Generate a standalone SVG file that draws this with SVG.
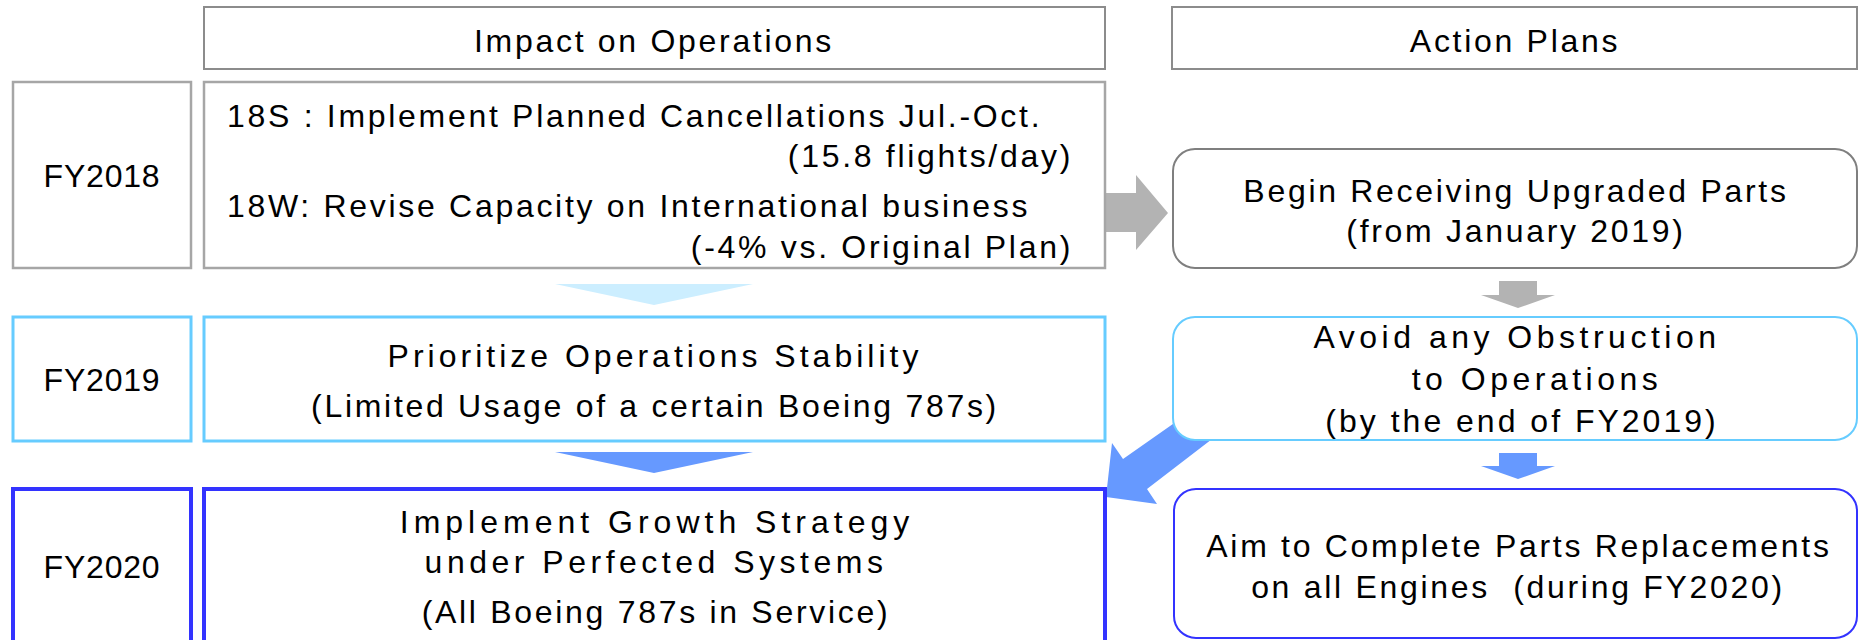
<svg xmlns="http://www.w3.org/2000/svg" width="1859" height="640" viewBox="0 0 1859 640">
  <style>
    text { font-family: "Liberation Sans", Arial, sans-serif; font-size: 32px; fill: #000; letter-spacing: 2.7px; }
    .mid { text-anchor: middle; }
    .end { text-anchor: end; }
    .yr { letter-spacing: 0.8px; }
    .wide { letter-spacing: 4.5px; }
    .box { fill: #fff; }
    .hdr { stroke: #8c8c8c; stroke-width: 2; }
    .g18 { stroke: #a6a6a6; stroke-width: 2.5; }
    .g19 { stroke: #66ccff; stroke-width: 3; }
    .g20 { stroke: #3333ff; stroke-width: 4; }
    .r18 { stroke: #7f7f7f; stroke-width: 2; }
    .r19 { stroke: #66ccff; stroke-width: 2; }
    .r20 { stroke: #3333ff; stroke-width: 2; }
  </style>

  <rect width="1859" height="640" fill="#fff"/>

  <!-- connectors (drawn first so the boxes sit on top) -->
  <g id="connectors">
    <!-- FY2018 impact to action plan -->
    <polygon points="1104,193 1136,193 1136,175 1168,213 1136,250 1136,232 1104,232" fill="#b3b3b3"/>
    <!-- year-to-year chevrons -->
    <polygon points="555,284 753,284 654,305" fill="#cceeff"/>
    <polygon points="555,452 753,452 654,473" fill="#6699ff"/>
    <!-- action plan steps -->
    <polygon points="1499,281 1537,281 1537,295 1555,295 1518,308 1481,295 1499,295" fill="#b3b3b3"/>
    <polygon points="1499,453 1537,453 1537,466 1555,466 1518,479 1481,466 1499,466" fill="#6699ff"/>
    <!-- action plan feeding the FY2020 growth strategy -->
    <polygon points="1106,497 1112,443 1123,459 1200,405 1216,436 1147,489 1157,504" fill="#6699ff"/>
  </g>

  <g id="header-impact">
    <rect class="box hdr" x="204" y="7" width="901" height="62"/>
    <text class="mid" x="654" y="52">Impact on Operations</text>
  </g>
  <g id="header-actions">
    <rect class="box hdr" x="1172" y="7" width="685" height="62"/>
    <text class="mid" x="1515" y="52">Action Plans</text>
  </g>

  <g id="fy2018">
    <rect class="box g18" x="13" y="82" width="178" height="186"/>
    <text class="mid yr" x="102" y="187">FY2018</text>
  </g>
  <g id="impact-2018">
    <rect class="box g18" x="204" y="82" width="901" height="186"/>
    <text x="227" y="127">18S : Implement Planned Cancellations Jul.-Oct.</text>
    <text class="end" x="1073" y="167">(15.8 flights/day)</text>
    <text x="227" y="217">18W: Revise Capacity on International business</text>
    <text class="end" x="1073" y="258">(-4% vs. Original Plan)</text>
  </g>
  <g id="action-2018">
    <rect class="box r18" x="1173" y="149" width="684" height="119" rx="22"/>
    <text class="mid" x="1516" y="202">Begin Receiving Upgraded Parts</text>
    <text class="mid" x="1516" y="242">(from January 2019)</text>
  </g>

  <g id="fy2019">
    <rect class="box g19" x="13" y="317" width="178" height="124"/>
    <text class="mid yr" x="102" y="391">FY2019</text>
  </g>
  <g id="impact-2019">
    <rect class="box g19" x="204" y="317" width="901" height="124"/>
    <text class="mid" x="655" y="367" style="letter-spacing:4px">Prioritize Operations Stability</text>
    <text class="mid" x="655" y="417">(Limited Usage of a certain Boeing 787s)</text>
  </g>
  <g id="action-2019">
    <rect class="box r19" x="1173" y="317" width="684" height="123" rx="22"/>
    <text class="mid wide" x="1517" y="348">Avoid any Obstruction</text>
    <text class="mid wide" x="1537" y="390">to Operations</text>
    <text class="mid" x="1522" y="432" style="letter-spacing:3px">(by the end of FY2019)</text>
  </g>

  <g id="fy2020">
    <rect class="box g20" x="13" y="489" width="178" height="153"/>
    <text class="mid yr" x="102" y="578">FY2020</text>
  </g>
  <g id="impact-2020">
    <rect class="box g20" x="204" y="489" width="901" height="153"/>
    <text class="mid" x="657" y="533" style="letter-spacing:5px">Implement Growth Strategy</text>
    <text class="mid wide" x="656" y="573">under Perfected Systems</text>
    <text class="mid" x="656" y="623">(All Boeing 787s in Service)</text>
  </g>
  <g id="action-2020">
    <rect class="box r20" x="1174" y="489" width="683" height="149" rx="22"/>
    <text class="mid" x="1519" y="557">Aim to Complete Parts Replacements</text>
    <text class="mid" x="1518" y="598" xml:space="preserve">on all Engines  (during FY2020)</text>
  </g>
</svg>
